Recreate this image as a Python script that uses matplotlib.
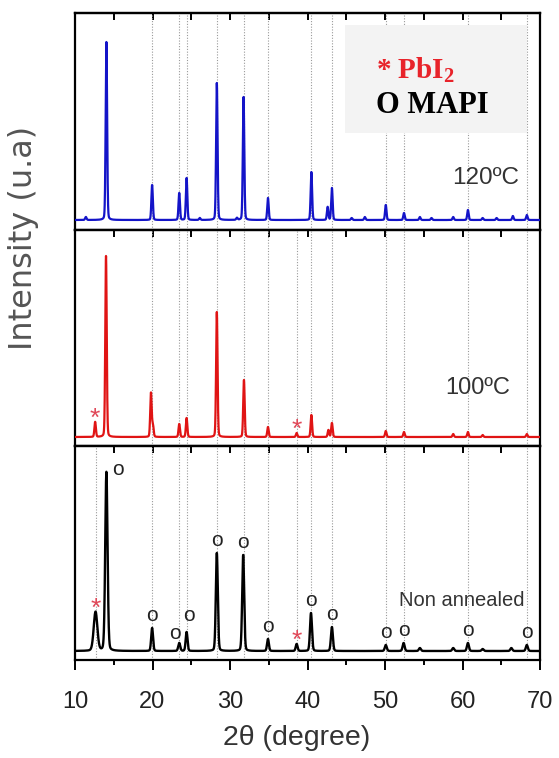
import numpy as np
import matplotlib
matplotlib.use('Agg')
import matplotlib.pyplot as plt
from matplotlib.ticker import MultipleLocator
from matplotlib.patches import Rectangle

plt.rcParams['mathtext.fontset'] = 'custom'
plt.rcParams['mathtext.rm'] = 'Liberation Serif:bold'
plt.rcParams['mathtext.bf'] = 'Liberation Serif:bold'

SANS = ['Liberation Sans', 'DejaVu Sans']

# ---------------------------------------------------------------- data (peaks)
# 120 C (blue)
pos_120 = [11.4, 14.05, 19.95, 23.45, 24.4, 26.1, 28.3, 30.9, 31.75, 34.9, 40.5, 42.6, 43.15,
           45.7, 47.4, 50.1, 52.45, 54.5, 56.0, 58.8, 60.7, 62.6, 64.4, 66.5, 68.3]
hgt_120 = [3, 178, 35, 27, 42, 2, 137, 2, 123, 22, 48, 13, 32,
           2, 3, 15, 7, 3, 2, 3, 10, 2, 2, 4, 5]
# 100 C (red)
pos_100 = [12.6, 14.0, 19.8, 20.05, 23.45, 24.4, 28.3, 31.8, 34.9, 38.6, 40.5, 42.7, 43.15,
           50.1, 52.45, 58.8, 60.7, 62.6, 68.3]
hgt_100 = [15, 181, 44, 12, 13, 19, 125, 57, 10, 4, 22, 7, 14,
           6, 5, 3, 5, 2, 3]
# non annealed (black)
pos_na = [12.65, 14.05, 19.95, 23.45, 24.4, 28.3, 31.7, 34.9, 38.6, 40.45, 43.15,
          50.1, 52.4, 54.5, 58.8, 60.7, 62.6, 66.3, 68.3]
hgt_na = [39, 179, 23, 8, 19, 98, 96, 12, 7, 38, 24,
          6, 8, 3, 3, 8, 2, 3, 6]
wid_na = [0.55, 0.35, 0.28, 0.3, 0.28, 0.3, 0.3, 0.28, 0.28, 0.3, 0.3,
          0.3, 0.3, 0.3, 0.3, 0.3, 0.3, 0.3, 0.3]

# reflection positions (dotted guide lines)
mapi_lines = [19.95, 23.45, 24.4, 28.3, 31.75, 34.9, 40.5, 43.15, 50.1, 52.45, 60.7, 68.3]
pbi2_lines = [12.65, 38.6]

# markers on the non annealed pattern
mapi_marks = [19.95, 23.45, 24.4, 28.3, 31.7, 34.9, 40.45, 43.15, 50.1, 52.4, 60.7, 68.3]
pbi2_marks = [12.65, 38.6]

x = np.linspace(10, 70, 6001)


def pattern(pos, hgt, wid):
    y = np.zeros_like(x)
    for p, h, w in zip(pos, hgt, wid):
        s = w / 2.3548
        g = np.exp(-0.5 * ((x - p) / s) ** 2)
        l = 1.0 / (1.0 + ((x - p) / (w / 2)) ** 2)
        y += h * (0.85 * g + 0.15 * l)
    return y


def peak_at(pos, hgt, p):
    i = int(np.argmin(np.abs(np.array(pos) - p)))
    return hgt[i]


y120 = pattern(pos_120, hgt_120, [0.22] * len(pos_120))
y100 = pattern(pos_100, hgt_100, [0.22] * len(pos_100))
yna = pattern(pos_na, hgt_na, wid_na)

# ---------------------------------------------------------------- figure
fig = plt.figure(figsize=(5.59, 7.58), dpi=100)
W, H = 559.0, 758.0
left, width = 75 / W, 465 / W
edges = [13, 230, 446, 660]

axes = []
for k in range(3):
    top, bot = edges[k], edges[k + 1]
    ax = fig.add_axes([left, 1 - bot / H, width, (bot - top) / H])
    axes.append(ax)

ax1, ax2, ax3 = axes
ylims = [(-10, 207), (-9, 207), (-9, 205)]

for ax, ylim in zip(axes, ylims):
    ax.set_xlim(10, 70)
    ax.set_ylim(*ylim)
    ax.set_yticks([])
    ax.xaxis.set_major_locator(MultipleLocator(10))
    ax.xaxis.set_minor_locator(MultipleLocator(5))
    ax.tick_params(axis='x', which='major', direction='out', length=7, width=1.4,
                   labelsize=17, labelcolor='#222222', pad=15)
    ax.tick_params(axis='x', which='minor', direction='out', length=3.6, width=1.4)
    for sp in ax.spines.values():
        sp.set_linewidth(1.6)
    sec = ax.secondary_xaxis('top')
    sec.xaxis.set_major_locator(MultipleLocator(10))
    sec.xaxis.set_minor_locator(MultipleLocator(5))
    sec.tick_params(axis='x', which='both', direction='in', length=5, width=1.4, labeltop=False)
    sec.spines['top'].set_linewidth(1.6)

for ax in (ax1, ax2):
    ax.tick_params(axis='x', labelbottom=False)

for lab in ax3.get_xticklabels():
    lab.set_family(SANS)

# guide lines
for ax, extra in ((ax1, []), (ax2, [38.6]), (ax3, pbi2_lines)):
    for p in mapi_lines + extra:
        ax.axvline(p, color='#9a9a9a', ls=(0, (1, 1.5)), lw=0.8, zorder=1)

ax1.plot(x, y120, color='#1414c8', lw=1.6, zorder=3)
ax2.plot(x, y100, color='#e01414', lw=1.6, zorder=3)
ax3.plot(x, yna, color='black', lw=1.7, zorder=3)

# legend box
ax1.add_patch(Rectangle((0.581, 0.447), 0.391, 0.498, transform=ax1.transAxes,
                        facecolor='#f3f3f3', edgecolor='none', zorder=2))
ax1.text(0.647, 0.737, r'* PbI$_{2}$', transform=ax1.transAxes, color='#e8232a',
         family='Liberation Serif', fontweight='bold', fontsize=21, va='center', ha='left', zorder=5)
ax1.text(0.647, 0.576, 'O MAPI', transform=ax1.transAxes, color='black',
         family='Liberation Serif', fontweight='bold', fontsize=22, va='center', ha='left', zorder=5)

# sample labels
ax1.text(0.882, 0.24, '120ºC', transform=ax1.transAxes, family=SANS, fontsize=17.5,
         color='#333333', ha='center', va='center')
ax2.text(0.865, 0.269, '100ºC', transform=ax2.transAxes, family=SANS, fontsize=17,
         color='#333333', ha='center', va='center')
ax3.text(0.831, 0.28, 'Non annealed', transform=ax3.transAxes, family=SANS, fontsize=14.5,
         color='#333333', ha='center', va='center')

# phase markers (small nudges where two markers sit close together)
nudge = {23.45: (-3, 3), 24.4: (2, 8), 14.05: (8, -2)}
for p in mapi_marks + [14.05]:
    h = peak_at(pos_na, hgt_na, p)
    dx, dy = nudge.get(p, (0, 5))
    ax3.annotate('o', (p, h), xytext=(dx, dy), textcoords='offset points',
                 family=SANS, fontsize=15, color='#222222', ha='center', va='baseline')
for p in pbi2_marks:
    h = peak_at(pos_na, hgt_na, p)
    ax3.annotate('*', (p, h), xytext=(0, -3), textcoords='offset points',
                 family='Liberation Sans', fontsize=19, color='#e04858', ha='center', va='baseline')
for p in [12.6, 38.6]:
    h = peak_at(pos_100, hgt_100, p)
    ax2.annotate('*', (p, h), xytext=(0, -3), textcoords='offset points',
                 family='Liberation Sans', fontsize=19, color='#e04858', ha='center', va='baseline')

# axis titles
fig.text(297 / W, 1 - 738 / H, '2θ (degree)', family=SANS, fontsize=20.5, color='#333333',
         ha='center', va='center')
fig.text(24 / W, 1 - 238 / H, 'Intensity (u.a)', family='DejaVu Sans', fontsize=23,
         color='#555555', rotation=90, ha='center', va='center')

fig.savefig('out.png', dpi=100)
